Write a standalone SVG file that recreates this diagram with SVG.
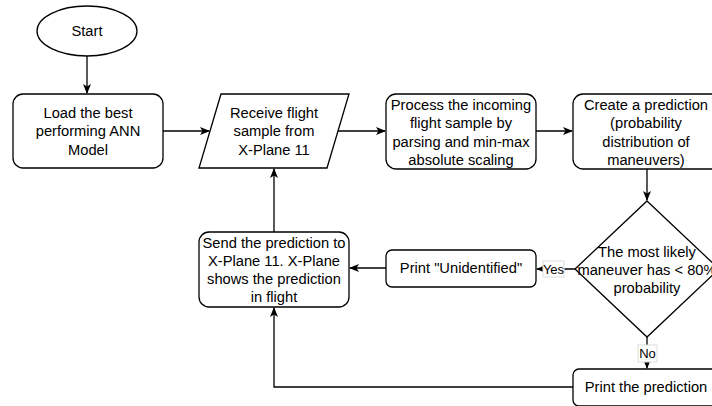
<svg xmlns="http://www.w3.org/2000/svg" width="712" height="406" viewBox="0 0 712 406">
<style>
.n{fill:#fff;stroke:#000;stroke-width:1.3}
.t{font-family:"Liberation Sans",Arial,sans-serif;font-size:14.7px;fill:#000;text-anchor:middle}
.c{fill:none;stroke:#000;stroke-width:1.3}
.lb{fill:#fff;stroke:#ddd;stroke-width:1}
</style>
<defs>
<marker id="a" markerWidth="10" markerHeight="10" viewBox="0 0 10 10" refX="9" refY="5" orient="auto" markerUnits="userSpaceOnUse">
<path d="M0,1 L10,5 L0,9 L2.5,5 z" fill="#000"/>
</marker>
</defs>
<rect width="712" height="406" fill="#fff"/>
<g id="connectors">
<path class="c" d="M87,56 V93" marker-end="url(#a)"/>
<path class="c" d="M163,131 H209" marker-end="url(#a)"/>
<path class="c" d="M338,131 H385" marker-end="url(#a)"/>
<path class="c" d="M536,131 H572" marker-end="url(#a)"/>
<path class="c" d="M647,169 V200" marker-end="url(#a)"/>
<path class="c" d="M575,269 H537" marker-end="url(#a)"/>
<path class="c" d="M386,268 H350" marker-end="url(#a)"/>
<path class="c" d="M274,232 V169" marker-end="url(#a)"/>
<path class="c" d="M647,337 V368" marker-end="url(#a)"/>
<path class="c" d="M573,387 H274 V308" marker-end="url(#a)"/>
<g id="label-yes">
<rect class="lb" x="543" y="261" width="21" height="16"/>
<text class="t" x="553.5" y="274" style="font-size:13px">Yes</text>
</g>
<g id="label-no">
<rect class="lb" x="638" y="345" width="19" height="17"/>
<text class="t" x="647.5" y="358" style="font-size:13px">No</text>
</g>
</g>
<g id="start">
<ellipse class="n" cx="87" cy="31" rx="50" ry="25"/>
<text class="t" x="87" y="36">Start</text>
</g>
<g id="load">
<rect class="n" x="13" y="94" width="150" height="74" rx="10"/>
<text class="t" x="88" y="118">Load the best</text>
<text class="t" x="88" y="136">performing ANN</text>
<text class="t" x="88" y="155">Model</text>
</g>
<g id="receive">
<polygon class="n" points="221,94 349,94 327,168 199,168"/>
<text class="t" x="274" y="118">Receive flight</text>
<text class="t" x="274" y="136">sample from</text>
<text class="t" x="274" y="155">X-Plane 11</text>
</g>
<g id="process">
<rect class="n" x="386" y="94" width="150" height="75" rx="10"/>
<text class="t" x="461" y="110">Process the incoming</text>
<text class="t" x="461" y="128">flight sample by</text>
<text class="t" x="461" y="147">parsing and min-max</text>
<text class="t" x="461" y="165">absolute scaling</text>
</g>
<g id="create">
<rect class="n" x="573" y="94" width="150" height="75" rx="10"/>
<text class="t" x="646" y="110">Create a prediction</text>
<text class="t" x="646" y="128">(probability</text>
<text class="t" x="646" y="147">distribution of</text>
<text class="t" x="646" y="165">maneuvers)</text>
</g>
<g id="decision">
<polygon class="n" points="647,201 719,269 647,337 575,269"/>
<text class="t" x="647" y="257">The most likely</text>
<text class="t" x="647" y="275">maneuver has &lt; 80%</text>
<text class="t" x="647" y="293">probability</text>
</g>
<g id="unidentified">
<rect class="n" x="386" y="250" width="150" height="37" rx="6"/>
<text class="t" x="461" y="273">Print "Unidentified"</text>
</g>
<g id="send">
<rect class="n" x="199" y="232" width="150" height="75" rx="10"/>
<text class="t" x="274" y="248">Send the prediction to</text>
<text class="t" x="274" y="266">X-Plane 11. X-Plane</text>
<text class="t" x="274" y="284">shows the prediction</text>
<text class="t" x="274" y="302">in flight</text>
</g>
<g id="print">
<rect class="n" x="573" y="369" width="150" height="37" rx="6"/>
<text class="t" x="646" y="392">Print the prediction</text>
</g>
</svg>
